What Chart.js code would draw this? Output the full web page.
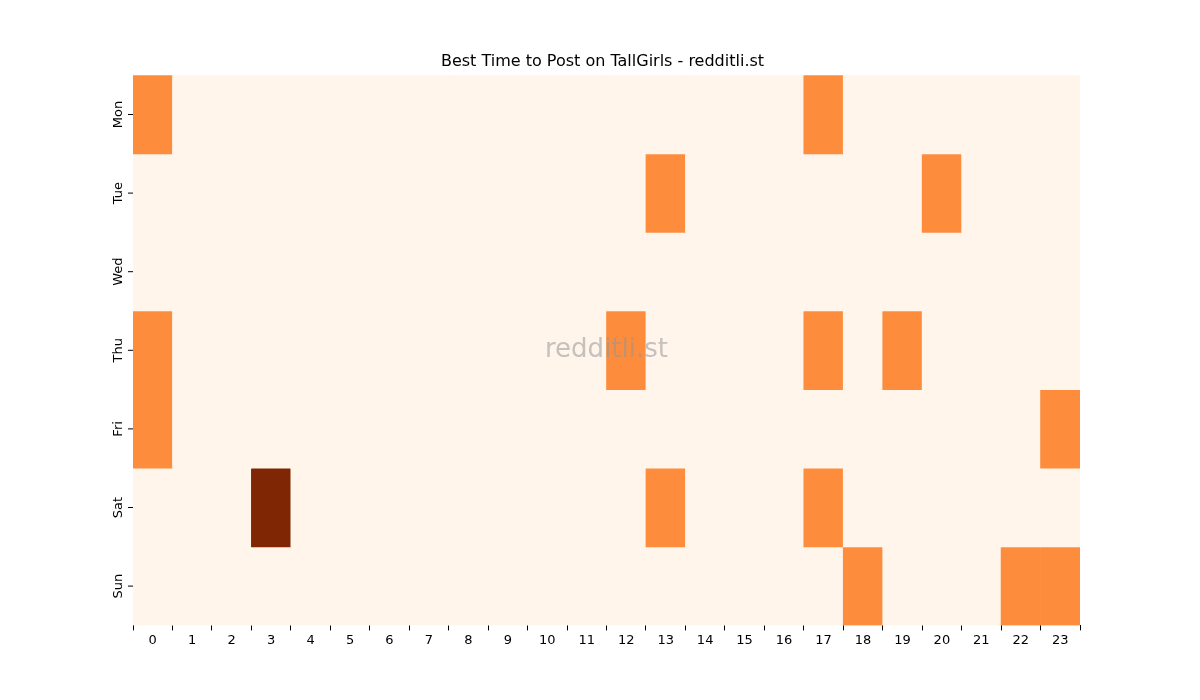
<!DOCTYPE html>
<html><head><meta charset="utf-8">
<script src="https://cdn.jsdelivr.net/npm/chart.js@4/dist/chart.umd.min.js"></script>
<style>body{margin:0;background:#fff}#w{width:1200px;height:700px}</style>
</head><body><div id="w"><canvas id="c"></canvas></div>
<script>
const hours = Array.from({length:24},(_,i)=>String(i));
const days = ["Mon","Tue","Wed","Thu","Fri","Sat","Sun"];
const Mon=[1,0,0,0,0,0,0,0,0,0,0,0,0,0,0,0,0,1,0,0,0,0,0,0];
const Tue=[0,0,0,0,0,0,0,0,0,0,0,0,0,1,0,0,0,0,0,0,1,0,0,0];
const Wed=[0,0,0,0,0,0,0,0,0,0,0,0,0,0,0,0,0,0,0,0,0,0,0,0];
const Thu=[1,0,0,0,0,0,0,0,0,0,0,0,1,0,0,0,0,1,0,1,0,0,0,0];
const Fri=[1,0,0,0,0,0,0,0,0,0,0,0,0,0,0,0,0,0,0,0,0,0,0,1];
const Sat=[0,0,0,2,0,0,0,0,0,0,0,0,0,1,0,0,0,1,0,0,0,0,0,0];
const Sun=[0,0,0,0,0,0,0,0,0,0,0,0,0,0,0,0,0,0,1,0,0,0,1,1];
const rows=[Mon,Tue,Wed,Thu,Fri,Sat,Sun];
const palette=["#fff5eb","#fd8d3c","#7f2704"];
const datasets=rows.map((r,i)=>({label:days[i],data:r.map(()=>1),backgroundColor:r.map(v=>palette[v]),borderWidth:0,barPercentage:1,categoryPercentage:1,stack:"s"}));
const ylab={id:"ylab",afterDraw(ch){const c=ch.ctx,s=ch.scales.y;c.save();c.font="13px 'DejaVu Sans'";c.fillStyle="#000";c.textAlign="center";c.textBaseline="bottom";
days.forEach((d,i)=>{const y=s.getPixelForValue(i+0.5);c.strokeStyle="#000";c.lineWidth=1;c.beginPath();c.moveTo(s.right-5,y);c.lineTo(s.right,y);c.stroke();c.save();c.translate(s.right-8,y);c.rotate(-Math.PI/2);c.fillText(d,0,0);c.restore();});
const a=ch.chartArea;c.font="26px 'DejaVu Sans'";c.fillStyle="rgba(150,150,150,0.55)";c.textBaseline="middle";c.fillText("redditli.st",(a.left+a.right)/2,(a.top+a.bottom)/2);c.restore();}};
new Chart(document.getElementById("c"),{type:"bar",data:{labels:hours,datasets},
options:{responsive:true,maintainAspectRatio:false,animation:false,
layout:{padding:{left:125,right:120,top:52,bottom:50}},
plugins:{legend:{display:false},tooltip:{enabled:false},title:{display:true,text:"Best Time to Post on TallGirls - redditli.st",color:"#000",font:{family:"DejaVu Sans",size:16,weight:"normal"},padding:{top:0,bottom:4}}},
scales:{x:{stacked:true,grid:{display:true,drawOnChartArea:false,tickLength:5,color:"#000"},border:{display:false},ticks:{color:"#000",font:{family:"DejaVu Sans",size:13},maxRotation:0,padding:2}},
y:{stacked:true,reverse:true,min:0,max:7,display:true,grid:{display:false},border:{display:false},ticks:{display:false}}}},
plugins:[ylab]});
</script></body></html>
